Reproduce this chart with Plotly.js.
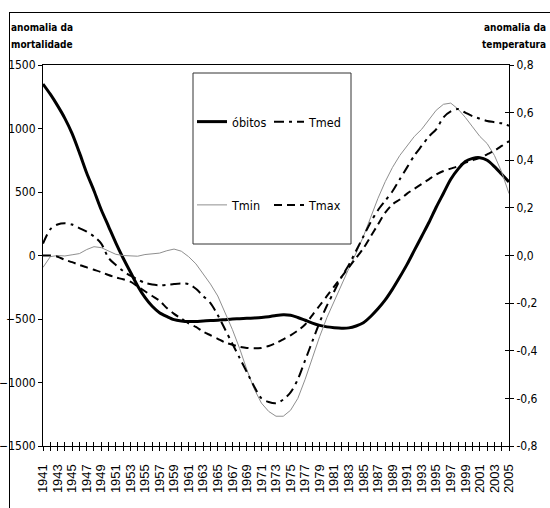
<!DOCTYPE html>
<html>
<head>
<meta charset="utf-8">
<script src="https://cdn.plot.ly/plotly-3.0.1.min.js"></script>
<style>
html,body{margin:0;padding:0;background:#fff;overflow:hidden;}
#wrap{position:relative;width:550px;height:508px;overflow:hidden;}
#chart{width:550px;height:508px;}
#frame{position:absolute;left:9px;top:12px;width:600px;height:600px;border-left:1px solid #000;border-top:1px solid #000;pointer-events:none;}
</style>
</head>
<body>
<div id="wrap"><div id="chart"></div><div id="frame"></div></div>
<script>
const years = [];
for (let y = 1941; y <= 2005; y++) years.push(y);

const obitos = [1350,1270,1180,1080,960,810,650,510,360,230,100,-20,-130,-240,-330,-400,-450,-480,-505,-515,
 -520,-520,-515,-512,-510,-505,-500,-498,-495,-492,-488,-482,-472,-466,-470,-488,-510,-532,-550,-562,
 -568,-572,-570,-555,-530,-480,-420,-350,-265,-170,-70,40,150,260,380,490,600,680,740,765,
 770,750,700,640,580];

const tmed = [0.05,0.11,0.13,0.135,0.13,0.115,0.10,0.08,0.05,-0.01,-0.04,-0.065,-0.085,-0.10,-0.115,-0.122,-0.125,-0.123,-0.12,-0.118,
 -0.12,-0.14,-0.17,-0.20,-0.25,-0.31,-0.37,-0.43,-0.49,-0.55,-0.60,-0.615,-0.62,-0.605,-0.575,-0.52,-0.44,-0.36,-0.28,-0.21,
 -0.15,-0.09,-0.04,0.02,0.08,0.14,0.19,0.23,0.27,0.32,0.37,0.42,0.46,0.50,0.53,0.58,0.605,0.615,0.60,0.585,
 0.575,0.565,0.56,0.555,0.545];

const tmin = [-0.05,-0.005,0.0,-0.002,0.003,0.008,0.025,0.037,0.033,0.02,0.005,0.0,-0.002,-0.003,0.004,0.006,0.01,0.02,0.027,0.018,
 -0.005,-0.035,-0.075,-0.12,-0.17,-0.24,-0.31,-0.39,-0.48,-0.56,-0.62,-0.655,-0.675,-0.675,-0.65,-0.60,-0.52,-0.43,-0.34,-0.26,
 -0.19,-0.12,-0.055,0.01,0.08,0.16,0.24,0.31,0.37,0.42,0.46,0.50,0.53,0.57,0.61,0.635,0.64,0.615,0.58,0.54,
 0.50,0.47,0.42,0.35,0.26];

const tmax = [0.0,0.0,-0.005,-0.018,-0.028,-0.04,-0.05,-0.06,-0.07,-0.082,-0.092,-0.10,-0.11,-0.13,-0.15,-0.17,-0.19,-0.22,-0.245,-0.265,
 -0.285,-0.30,-0.32,-0.335,-0.35,-0.365,-0.375,-0.383,-0.388,-0.39,-0.388,-0.38,-0.368,-0.352,-0.335,-0.315,-0.29,-0.25,-0.21,-0.17,
 -0.13,-0.09,-0.05,-0.01,0.03,0.08,0.13,0.18,0.215,0.235,0.26,0.28,0.30,0.32,0.34,0.355,0.365,0.375,0.39,0.40,
 0.41,0.425,0.44,0.46,0.48];

const xTickText = years.map(y => (y % 2 === 1 ? String(y) : ''));
const leftTicks = [-1500,-1000,-500,0,500,1000,1500];
const rightTicks = [-0.8,-0.6,-0.4,-0.2,0,0.2,0.4,0.6,0.8];
const rightTickText = ['-0,8','-0,6','-0,4','-0,2','0,0','0,2','0,4','0,6','0,8'];

const narrow = '"DejaVu Sans Condensed", "Liberation Sans Narrow", "Arial Narrow", "Liberation Sans", Arial, sans-serif';
const regular = '"Liberation Sans", Arial, sans-serif';

const traces = [
  {x: years, y: tmin, name: 'Tmin', xaxis: 'x', yaxis: 'y2', mode: 'lines',
   line: {color: '#8f8f8f', width: 1}, legend: 'legend', legendgroup: 'b', legendrank: 2},
  {x: years, y: tmax, name: 'Tmax', xaxis: 'x', yaxis: 'y3', mode: 'lines',
   line: {color: '#000', width: 2, dash: '8px,5px', shape: 'spline', smoothing: 0.8},
   legend: 'legend2', legendgroup: 'd', legendrank: 2},
  {x: years, y: tmed, name: 'Tmed', xaxis: 'x2', yaxis: 'y2', mode: 'lines',
   line: {color: '#000', width: 2, dash: '10px,5px,3px,5px', shape: 'spline', smoothing: 0.8},
   legend: 'legend2', legendgroup: 'c', legendrank: 1},
  {x: years, y: obitos, name: 'óbitos', xaxis: 'x', yaxis: 'y', mode: 'lines',
   line: {color: '#000', width: 3, shape: 'spline', smoothing: 0.8},
   legend: 'legend', legendgroup: 'a', legendrank: 1}
];

const L = 43, T = 65, W = 466, H = 381;
const px = v => (v - L) / W;
const py = v => (T + H - v) / H;

const layout = {
  width: 550, height: 508,
  margin: {l: L, r: 550 - L - W, t: T, b: 508 - T - H, pad: 0},
  paper_bgcolor: '#fff', plot_bgcolor: '#fff',
  font: {family: narrow, size: 12, color: '#000'},
  xaxis: {range: [1941, 2005], tickvals: years, ticktext: xTickText, tickangle: -90,
    ticks: 'outside', ticklen: 4, tickwidth: 1, tickcolor: '#000', ticklabelstandoff: 8,
    showline: true, linecolor: '#000', linewidth: 1, mirror: true,
    showgrid: false, zeroline: false, tickfont: {family: regular, size: 13}},
  xaxis2: {range: [1941, 2005], overlaying: 'x', anchor: 'y', side: 'bottom', tickvals: years,
    showticklabels: false, ticks: 'inside', ticklen: 4, tickwidth: 1, tickcolor: '#000',
    showline: false, showgrid: false, zeroline: false},
  yaxis: {range: [-1500, 1500], tickvals: leftTicks, ticks: 'outside', ticklen: 4, tickcolor: '#000',
    showline: true, linecolor: '#000', linewidth: 1, showgrid: false, zeroline: false,
    tickfont: {family: narrow, size: 12}},
  yaxis2: {range: [-0.8, 0.8], overlaying: 'y', side: 'right', anchor: 'x', tickvals: rightTicks,
    ticktext: rightTickText, ticks: 'outside', ticklen: 4, tickcolor: '#000',
    showline: true, linecolor: '#000', linewidth: 1, showgrid: false, zeroline: false,
    tickfont: {family: narrow, size: 12}},
  yaxis3: {range: [-0.8, 0.8], overlaying: 'y', side: 'right', anchor: 'x', tickvals: rightTicks,
    showticklabels: false, ticks: 'inside', ticklen: 4, tickcolor: '#000',
    showline: false, showgrid: false, zeroline: false},
  legend: {x: px(192), y: py(107), xanchor: 'left', yanchor: 'top', bgcolor: 'rgba(0,0,0,0)',
    borderwidth: 0, traceorder: 'grouped', tracegroupgap: 64, font: {family: narrow, size: 12.5}},
  legend2: {x: px(269), y: py(107), xanchor: 'left', yanchor: 'top', bgcolor: 'rgba(0,0,0,0)',
    borderwidth: 0, traceorder: 'grouped', tracegroupgap: 64, font: {family: narrow, size: 12.5}},
  showlegend: true,
  shapes: [
    {type: 'rect', xref: 'paper', yref: 'paper', x0: px(193), x1: px(351), y0: py(244), y1: py(73),
     line: {color: '#333', width: 1}, fillcolor: 'rgba(0,0,0,0)', layer: 'above'}
  ],
  annotations: [
    {text: '<b>anomalia da</b>', xref: 'paper', yref: 'paper', x: px(9), y: py(27), xanchor: 'left', yanchor: 'middle', showarrow: false, font: {family: narrow, size: 10}},
    {text: '<b>mortalidade</b>', xref: 'paper', yref: 'paper', x: px(9), y: py(45), xanchor: 'left', yanchor: 'middle', showarrow: false, font: {family: narrow, size: 10}},
    {text: '<b>anomalia da</b>', xref: 'paper', yref: 'paper', x: px(548), y: py(27), xanchor: 'right', yanchor: 'middle', showarrow: false, font: {family: narrow, size: 10}},
    {text: '<b>temperatura</b>', xref: 'paper', yref: 'paper', x: px(548), y: py(45), xanchor: 'right', yanchor: 'middle', showarrow: false, font: {family: narrow, size: 10}}
  ]
};

Plotly.newPlot('chart', traces, layout, {displayModeBar: false, staticPlot: true});
</script>
</body>
</html>
